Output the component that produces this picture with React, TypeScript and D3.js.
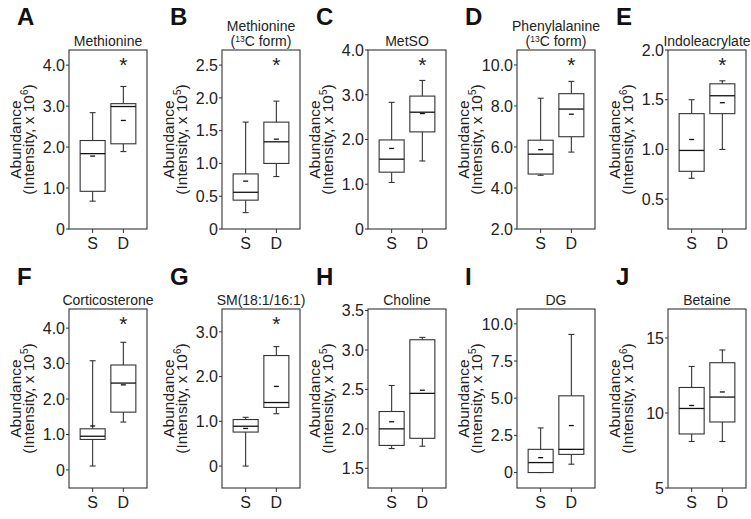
import * as d3 from "d3";

const letters = ["A", "B", "C", "D", "E", "F", "G", "H", "I", "J"];
// "^" marks the superscript part of a title line
const titles = [
  ["Methionine"],
  ["Methionine", "(^13^C form)"],
  ["MetSO"],
  ["Phenylalanine", "(^13^C form)"],
  ["Indoleacrylate"],
  ["Corticosterone"],
  ["SM(18:1/16:1)"],
  ["Choline"],
  ["DG"],
  ["Betaine"],
];
const exponents = [6, 5, 5, 5, 6, 5, 6, 5, 5, 6];
const groups = ["S", "D"];
const significant = [true, true, true, true, true, true, true, false, false, false];

const yDomains = [
  [0, 4.37], [0, 2.73], [0, 4.0], [2, 10.73], [0.2, 2.0],
  [-0.51, 4.54], [-0.49, 3.51], [1.25, 3.52], [-1.04, 11.0], [5, 16.93],
];
const yTickValues = [
  [0, 1, 2, 3, 4], [0, 0.5, 1, 1.5, 2, 2.5], [0, 1, 2, 3, 4], [2, 4, 6, 8, 10], [0.5, 1, 1.5, 2],
  [0, 1, 2, 3, 4], [0, 1, 2, 3], [1.5, 2, 2.5, 3, 3.5], [0, 2.5, 5, 7.5, 10], [5, 10, 15],
];
const yTickLabels = [
  ["0", "1.0", "2.0", "3.0", "4.0"], ["0", "0.5", "1.0", "1.5", "2.0", "2.5"],
  ["0", "1.0", "2.0", "3.0", "4.0"], ["2.0", "4.0", "6.0", "8.0", "10.0"],
  ["0.5", "1.0", "1.5", "2.0"], ["0", "1.0", "2.0", "3.0", "4.0"], ["0", "1.0", "2.0", "3.0"],
  ["1.5", "2.0", "2.5", "3.0", "3.5"], ["0", "2.5", "5.0", "7.5", "10.0"], ["5", "10", "15"],
];

// [low whisker, q1, median, q3, high whisker, mean]
const statsS = [
  [0.68, 0.92, 1.84, 2.16, 2.84, 1.78],
  [0.25, 0.44, 0.56, 0.84, 1.63, 0.73],
  [1.04, 1.27, 1.56, 1.99, 2.83, 1.8],
  [4.62, 4.68, 5.65, 6.33, 8.38, 5.87],
  [0.71, 0.78, 0.99, 1.36, 1.5, 1.1],
  [0.11, 0.86, 0.95, 1.16, 3.08, 1.24],
  [0.0, 0.76, 0.89, 1.04, 1.09, 0.84],
  [1.75, 1.79, 2.0, 2.22, 2.55, 2.09],
  [0, 0, 0.67, 1.56, 3.0, 1.0],
  [8.1, 8.6, 10.3, 11.7, 13.1, 10.5],
];
const statsD = [
  [1.89, 2.08, 2.99, 3.06, 3.48, 2.65],
  [0.8, 1.0, 1.33, 1.63, 1.95, 1.37],
  [1.52, 2.17, 2.61, 2.97, 3.32, 2.58],
  [5.75, 6.5, 7.85, 8.6, 9.2, 7.6],
  [1.0, 1.36, 1.54, 1.66, 1.69, 1.47],
  [1.35, 1.63, 2.45, 2.96, 3.6, 2.4],
  [1.17, 1.31, 1.42, 2.47, 2.67, 1.78],
  [1.78, 1.88, 2.45, 3.13, 3.16, 2.49],
  [0.56, 1.22, 1.56, 5.16, 9.29, 3.16],
  [8.1, 9.4, 11.06, 13.35, 14.2, 11.4],
];

const FRAME_LEFT = [69, 222, 368, 517, 668];
const ROW_TOP = [50, 309];
const FRAME_W = 78;
const FRAME_H = 179;
const BOX_W = 25;
const FONT = "'Liberation Sans', Arial, sans-serif";
const INK = "#333";

function TitleLine({ text, x, y }: { text: string; x: number; y: number }) {
  const parts = text.split("^");
  return (
    <text x={x} y={y} textAnchor="middle" fontSize={14} fill="#222">
      {parts.length === 1 ? (
        text
      ) : (
        <>
          {parts[0]}
          <tspan dy={-4.5} fontSize={8.5}>{parts[1]}</tspan>
          <tspan dy={4.5}>{parts[2]}</tspan>
        </>
      )}
    </text>
  );
}

function Panel({ i }: { i: number }) {
  const col = i % 5;
  const row = Math.floor(i / 5);
  const x0 = FRAME_LEFT[col];
  const y0 = ROW_TOP[row];
  const x = d3.scalePoint<string>().domain(groups).range([x0, x0 + FRAME_W]).padding(0.77);
  const y = d3.scaleLinear().domain(yDomains[i]).range([y0 + FRAME_H, y0]);
  const cy = y0 + FRAME_H / 2;
  const t = titles[i];

  return (
    <g>
      <text x={x0 - 52} y={y0 - 25 + (row ? 1 : 0)} fontSize={24} fontWeight="bold" fill="#111">
        {letters[i]}
      </text>
      {t.length === 1 ? (
        <TitleLine text={t[0]} x={x0 + FRAME_W / 2} y={y0 - 4} />
      ) : (
        <>
          <TitleLine text={t[0]} x={x0 + FRAME_W / 2} y={y0 - 19.5} />
          <TitleLine text={t[1]} x={x0 + FRAME_W / 2} y={y0 - 4} />
        </>
      )}

      {/* y label */}
      <g transform={`translate(${x0 - 48},${cy}) rotate(-90)`} fontSize={15.5} fill="#222">
        <text x={0} y={0} textAnchor="middle">Abundance</text>
        <text x={0} y={13} textAnchor="middle">
          (Intensity, x 10
          <tspan dy={-6} fontSize={10}>{exponents[i]}</tspan>
          <tspan dy={6}>)</tspan>
        </text>
      </g>

      {/* y ticks */}
      {yTickValues[i].map((v, k) => (
        <g key={k}>
          <line x1={x0 - 3} x2={x0} y1={y(v)} y2={y(v)} stroke={INK} />
          <text x={x0 - 4} y={y(v)} dy="0.36em" textAnchor="end" fontSize={16} fill="#222">
            {yTickLabels[i][k]}
          </text>
        </g>
      ))}

      {/* x ticks */}
      {groups.map((g) => (
        <g key={g}>
          <line x1={x(g)} x2={x(g)} y1={y0 + FRAME_H} y2={y0 + FRAME_H + 4} stroke={INK} />
          <text x={x(g)} y={y0 + FRAME_H + 20} textAnchor="middle" fontSize={16} fill="#222">
            {g}
          </text>
        </g>
      ))}

      {/* boxes */}
      {groups.map((g, gi) => {
        const [lo, q1, med, q3, hi, mean] = gi === 0 ? statsS[i] : statsD[i];
        const cx = x(g)!;
        return (
          <g key={g} fill="none" stroke={INK} strokeWidth={1.1}>
            <line x1={cx} x2={cx} y1={y(hi)} y2={y(q3)} />
            <line x1={cx} x2={cx} y1={y(q1)} y2={y(lo)} />
            <line x1={cx - 3} x2={cx + 3} y1={y(hi)} y2={y(hi)} />
            <line x1={cx - 3} x2={cx + 3} y1={y(lo)} y2={y(lo)} />
            <rect x={cx - BOX_W / 2} y={y(q3)} width={BOX_W} height={y(q1) - y(q3)} fill="#fff" />
            <line x1={cx - BOX_W / 2} x2={cx + BOX_W / 2} y1={y(med)} y2={y(med)} stroke="#111" strokeWidth={1.3} />
            <line x1={cx - 2.5} x2={cx + 2.5} y1={y(mean)} y2={y(mean)} stroke="#111" strokeWidth={1.3} />
          </g>
        );
      })}

      {significant[i] && (
        <text x={x("D")} y={y0 + 22} textAnchor="middle" fontSize={21} fill="#222">
          *
        </text>
      )}

      <rect x={x0} y={y0} width={FRAME_W} height={FRAME_H} fill="none" stroke={INK} strokeWidth={1.1} />
    </g>
  );
}

export default function App() {
  return (
    <div style={{ position: "fixed", left: 0, top: 0 }}>
      <svg width={751} height={519} fontFamily={FONT} style={{ display: "block", background: "#fff" }}>
        {letters.map((_, i) => (
          <Panel key={i} i={i} />
        ))}
      </svg>
    </div>
  );
}
